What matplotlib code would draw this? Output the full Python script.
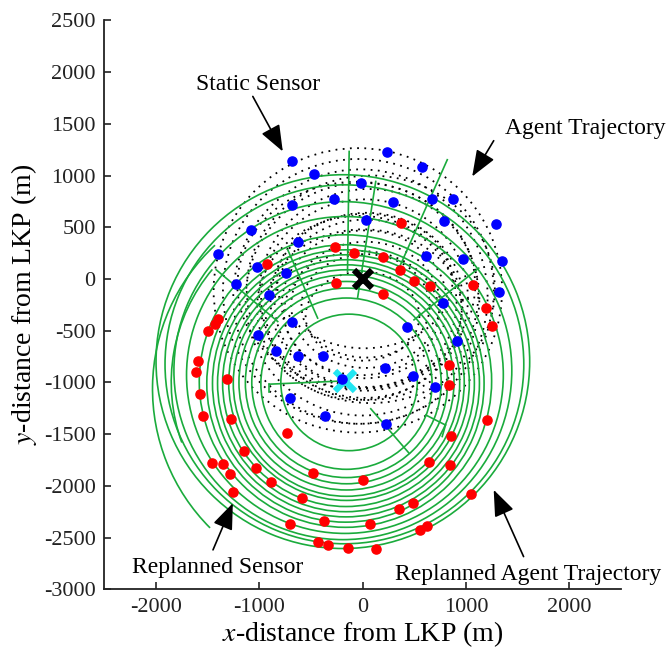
import numpy as np
import matplotlib.pyplot as plt
from matplotlib.patches import Arc

plt.rcParams['font.family'] = ['Liberation Serif', 'DejaVu Serif']
plt.rcParams['mathtext.fontset'] = 'stix'

# static sensor positions (m)
static_x = [-678, 240, 580, -470, -10, -680, -276, 292, 670, 880, 32, 788, 1293, -1077, -624,
            -1397, 610, 976, 1349, -1016, -738, -1220, 1318, -904, 783, -679, 428, -1008, 913,
            -838, -622, -384, 218, 488, -198, 703, -698, -361, 224]
static_y = [1145, 1229, 1080, 1014, 931, 711, 770, 749, 772, 770, 574, 563, 534, 470, 362,
            244, 221, 196, 173, 112, 60, -51, -127, -156, -231, -419, -462, -541, -603,
            -700, -748, -743, -861, -936, -970, -1044, -1146, -1326, -1404]

# replanned sensor positions (m)
replan_x = [-268, -82, 203, 369, -919, 360, 502, 655, -261, 198, 1071, 1192, 1253, -1397,
            -1427, -1495, -1587, -1608, -1569, -1541, -1311, -1275, -735, 841, 835, 1204, 860,
            -1145, -1457, -1353, -1284, -1257, -1026, -482, 0, -881, -587, 640, 845, 1048,
            356, 488, -700, -374, 75, 556, 625, -432, -333, -140, 131]
replan_y = [311, 251, 214, 542, 144, 88, -22, -72, -43, -145, -57, -283, -451, -385,
            -440, -502, -789, -901, -1108, -1326, -968, -1351, -1489, -829, -1025, -1360, -1516,
            -1659, -1781, -1786, -1883, -2057, -1827, -1872, -1940, -1967, -2117, -1773, -1797, -2077,
            -2224, -2167, -2369, -2344, -2369, -2425, -2390, -2546, -2573, -2602, -2607]

# agent trajectories (dotted loops): centre x, centre y, width, height
loop_cx = [-45, -20, 0, 20, 30, 20, 30, 30, -40, 60, 10, -10, 40, 0, -60, 80, 20, -30]
loop_cy = [-110, -170, -195, -190, -235, -245, -250, -260, -120, -150, -300, -330, -210, -360,
           -60, -100, -20, -280]
loop_w = [2790, 2460, 2260, 2000, 1760, 1600, 1440, 1240, 2620, 2120, 1900, 1500, 1860, 1100,
          2300, 2400, 1700, 1980]
loop_h = [2750, 2460, 2250, 1920, 1620, 1430, 1220, 1000, 2560, 2040, 1560, 1200, 1700, 860,
          2000, 2200, 1300, 1780]

# replanned trajectories (circle arcs): centre x, centre y, radius, start/end angle (deg)
arc_cx = [-130, -155, -155, -155, -155, -155, -155, -160, -160, -160, -165, -165,
          -170, -190, -175, -190, -131, -150]
arc_cy = [-1000, -1012, -1004, -1002, -1000, -1006, -1002, -1007, -1008, -1009, -1010, -987,
          -928, -886, -825, -799, -1063, -1000]
arc_r = [660, 828, 916, 978, 1040, 1095, 1139, 1193, 1242, 1291, 1341, 1414,
         1532, 1634, 1735, 1807, 1900, 1700]
arc_t1 = [0, 0, 0, 0, 0, 0, 0, 0, 0, 0, 0, 0, 0, 0, 0, 0, 133, 140]
arc_t2 = [360, 360, 360, 360, 360, 360, 360, 360, 360, 360, 360, 360, 360, 360, 360, 360, 225, 200]

# straight replanning legs: x1, y1, x2, y2
leg_x1 = [-129, 128, 820, 1124, -1415, -723, -900, -900, 80, 612, 803]
leg_y1 = [1233, 943, 1153, 105, 89, 282, -1017, -1017, -1255, -1315, -1412]
leg_x2 = [-145, -48, 353, 498, -820, -434, -168, -900, 450, 803, 771]
leg_y2 = [72, -185, 105, -395, -411, -378, -985, -1090, -1684, -1412, -1523]

lkp = (0, 0)
target = (-168, -985)

green = '#1aab3c'

fig = plt.figure(figsize=(6.66, 6.52), dpi=100)
ax = fig.add_axes([0.1562, 0.0962, 0.7762, 0.8725])

for cx, cy, w, h in zip(loop_cx, loop_cy, loop_w, loop_h):
    ax.add_patch(Arc((cx, cy), w, h, theta1=0, theta2=360, color='black',
                     lw=1.3, linestyle=(0, (1, 3)), zorder=2))

for cx, cy, r, t1, t2 in zip(arc_cx, arc_cy, arc_r, arc_t1, arc_t2):
    ax.add_patch(Arc((cx, cy), 2 * r, 2 * r, theta1=t1, theta2=t2, color=green,
                     lw=1.2, zorder=3))

for x1, y1, x2, y2 in zip(leg_x1, leg_y1, leg_x2, leg_y2):
    ax.plot([x1, x2], [y1, y2], color=green, lw=1.2, zorder=3)

ax.plot(*lkp, marker='x', color='black', ms=13, mew=4.5, zorder=4)
ax.plot(*target, marker='x', color='#22e6f2', ms=15, mew=4.5, zorder=4)
ax.plot(static_x, static_y, 'o', color='#0000ff', ms=6.6, zorder=5)
ax.plot(replan_x, replan_y, 'o', color='#ff0000', ms=6.6, zorder=5)

arrow = dict(arrowstyle='-|>,head_length=0.9,head_width=0.35', color='black',
             lw=1.2, mutation_scale=18, shrinkA=0, shrinkB=0)
ax.text(-1013, 1830, 'Static Sensor', ha='center', va='baseline', fontsize=17)
ax.annotate('', xy=(-771, 1233), xytext=(-1061, 1765), arrowprops=arrow)
ax.text(2154, 1404, 'Agent Trajectory', ha='center', va='baseline', fontsize=17, clip_on=False)
ax.annotate('', xy=(1061, 991), xytext=(1269, 1337), arrowprops=arrow, annotation_clip=False)
ax.text(-1399, -2844, 'Replanned Sensor', ha='center', va='baseline', fontsize=17)
ax.annotate('', xy=(-1254, -2167), xytext=(-1446, -2619), arrowprops=arrow)
ax.text(1606, -2909, 'Replanned Agent Trajectory', ha='center', va='baseline', fontsize=17,
        clip_on=False)
ax.annotate('', xy=(1269, -2039), xytext=(1558, -2684), arrowprops=arrow)

ax.set_xlim(-2500, 2500)
ax.set_ylim(-3000, 2500)
ax.set_xticks([-2000, -1000, 0, 1000, 2000])
ax.set_yticks(np.arange(-3000, 2501, 500))
ax.set_xticklabels(['-2000', '-1000', '0', '1000', '2000'])
ax.set_yticklabels([str(v) for v in range(-3000, 2501, 500)])
ax.tick_params(direction='in', length=5, width=1.2, labelsize=16, pad=6, colors='#222222')
for side in ['top', 'right']:
    ax.spines[side].set_visible(False)
for side in ['left', 'bottom']:
    ax.spines[side].set_linewidth(1.3)
    ax.spines[side].set_color('#222222')

ax.set_xlabel('$x$-distance from LKP (m)', fontsize=20)
ax.set_ylabel('$y$-distance from LKP (m)', fontsize=20)
ax.xaxis.label.set_va('baseline')
ax.xaxis.set_label_coords(0.5, -0.092)
ax.yaxis.set_label_coords(-0.125, 0.5)

fig.savefig('out.png', dpi=100)
